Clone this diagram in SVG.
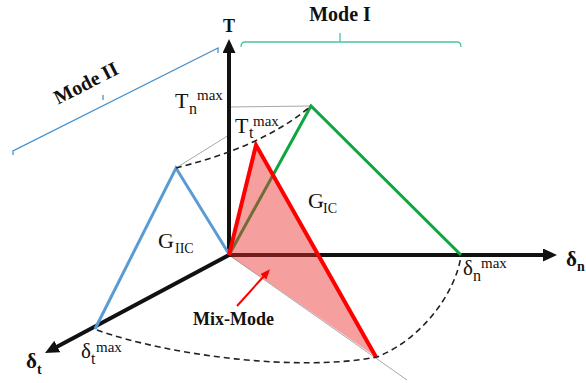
<svg xmlns="http://www.w3.org/2000/svg" width="586" height="383" viewBox="0 0 586 383">
<style>
text{font-family:"Liberation Serif","Times New Roman",serif;fill:#111}
.b{font-weight:bold}
.axis{stroke:#111;stroke-width:4;fill:none}
.thin{stroke:#a8a8a8;stroke-width:1;fill:none}
.dash{stroke:#222;stroke-width:1.6;stroke-dasharray:6 4;fill:none}
</style>
<defs>
<marker id="ah" markerUnits="userSpaceOnUse" markerWidth="16" markerHeight="14" refX="2" refY="6.5" orient="auto">
<path d="M0,0 L14,6.5 L0,13 z" fill="#111"/>
</marker>
<marker id="rh" markerUnits="userSpaceOnUse" markerWidth="12" markerHeight="10" refX="1" refY="4" orient="auto">
<path d="M0,0 L10,4 L0,8 z" fill="#ff0000"/>
</marker>
</defs>
<rect width="586" height="383" fill="#fff"/>
<g id="guides">
<line class="thin" x1="229" y1="107" x2="311" y2="106"/>
<line class="thin" x1="176" y1="168" x2="229" y2="135"/>
<line class="thin" x1="229" y1="255" x2="407" y2="380"/>
</g>
<g id="axes">
<line class="axis" x1="229" y1="257" x2="229" y2="51" marker-end="url(#ah)"/>
<line class="axis" x1="229" y1="255" x2="545" y2="255" marker-end="url(#ah)"/>
<line class="axis" x1="229" y1="255" x2="55.6" y2="347.4" marker-end="url(#ah)"/>
</g>
<g id="mode2-triangle">
<polyline points="95,329 176,168 229,254" fill="none" stroke="#5b9bd5" stroke-width="3"/>
</g>
<g id="mode1-triangle">
<polyline points="229,255 311,106 461,255" fill="none" stroke="#10a540" stroke-width="3"/>
</g>
<g id="mixed-triangle">
<polygon points="229,255 256,145 376,357" fill="#ea2b2b" fill-opacity="0.45"/>
<polyline points="229,255 256,145 376,357" fill="none" stroke="#ff0000" stroke-width="4" stroke-linejoin="miter"/>
</g>
<g id="connectors">
<path class="dash" d="M176,168 C215,158 268,142 311,106"/>
<path class="dash" d="M97,330 C170,356 300,372 377,357 C420,340 455,295 461,256"/>
<line x1="237" y1="306" x2="264" y2="276" stroke="#ff0000" stroke-width="2" marker-end="url(#rh)"/>
</g>
<g id="mode1-bracket">
<path d="M241,47 Q241,42 245,42 L457,42 Q461,42 461,47 M340,42 L340,33" fill="none" stroke="#4cc3a3" stroke-width="1.3"/>
<text class="b" x="340" y="21" font-size="20" text-anchor="middle">Mode I</text>
</g>
<g id="mode2-bracket">
<path d="M13,155 L13,151 L218,48 L218,53 M103,100 L103,95" fill="none" stroke="#4a90c8" stroke-width="1.3"/>
<text class="b" x="0" y="0" font-size="20" text-anchor="middle" transform="translate(89,89) rotate(-27)">Mode II</text>
</g>
<g id="labels">
<text class="b" x="229" y="32" font-size="18" text-anchor="middle">T</text>
<text font-size="22" x="175" y="108">T</text><text font-size="16" x="189" y="114">n</text><text font-size="15" x="197" y="100">max</text>
<text font-size="22" x="235" y="133">T</text><text font-size="16" x="249" y="138">t</text><text font-size="15" x="253" y="126">max</text>
<text font-size="22" x="158" y="248">G</text><text font-size="14" x="175" y="253">IIC</text>
<text font-size="22" x="308" y="208">G</text><text font-size="14" x="323" y="213">IC</text>
<text font-size="21" x="463" y="275">δ</text><text font-size="16" x="473" y="281">n</text><text font-size="15" x="481" y="268">max</text>
<text font-size="21" x="81" y="358">δ</text><text font-size="16" x="91" y="364">t</text><text font-size="15" x="96" y="352">max</text>
<text class="b" font-size="21" x="26" y="368">δ</text><text class="b" font-size="14" x="37" y="374">t</text>
<text class="b" font-size="21" x="566" y="266">δ</text><text class="b" font-size="14" x="577" y="271">n</text>
<text class="b" font-size="18" x="193" y="325">Mix-Mode</text>
</g>
</svg>
